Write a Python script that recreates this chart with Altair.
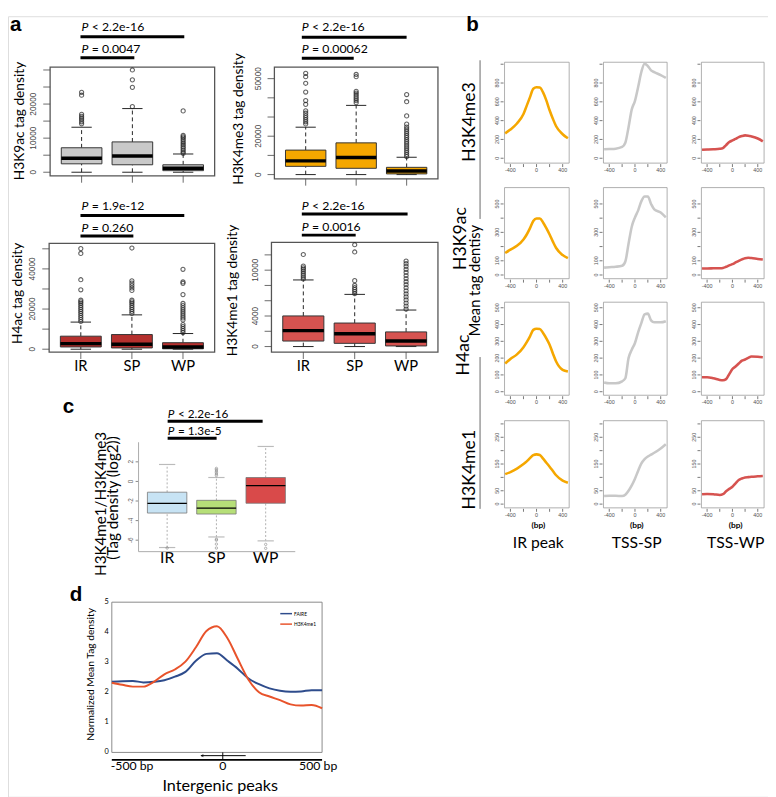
import altair as alt
import pandas as pd

W, H = 776, 797
SANS = "Lato"
RSANS = "Liberation Sans"

GROUPS = ["IR", "SP", "WP"]
POS = [1, 2, 3]

# ---------------- panel a : box-plot summaries ----------------
H3K9AC_LO = [0, 0, 0]
H3K9AC_Q1 = [2470, 2190, 460]
H3K9AC_MED = [4100, 4780, 1150]
H3K9AC_Q3 = [7180, 8900, 2190]
H3K9AC_HI = [13200, 18680, 5350]
H3K9AC_OUT_IR = [14200, 14800, 15400, 15900, 16400, 17000, 22600, 23450]
H3K9AC_OUT_SP = [19250, 24900, 27100, 30000]
H3K9AC_OUT_WP = [5550, 6000, 6500, 7000, 7500, 8000, 8500, 9000, 9500, 10000, 10400, 10800, 18000]

H3K4ME3_LO = [0, 0, 0]
H3K4ME3_Q1 = [4290, 3270, 360]
H3K4ME3_MED = [7140, 8880, 1890]
H3K4ME3_Q3 = [12760, 16530, 3780]
H3K4ME3_HI = [24700, 36070, 9030]
H3K4ME3_OUT_IR = [26400, 27500, 28600, 29700, 30800, 32000, 33200, 36600, 38600, 43000, 47600, 51000, 52800]
H3K4ME3_OUT_SP = [37450, 38500, 39500, 40500, 41500, 42500, 43400, 51000, 52200]
H3K4ME3_OUT_WP = [9400, 10500, 11600, 12700, 13800, 14900, 16000, 17100, 18200, 19300, 20400,
                  21500, 22600, 23700, 24800, 26300, 30600, 38000, 41700]

H4AC_LO = [0, 0, 0]
H4AC_Q1 = [1120, 630, 200]
H4AC_MED = [2780, 2440, 1120]
H4AC_Q3 = [6490, 7300, 3250]
H4AC_HI = [13500, 17100, 7800]
H4AC_OUT_IR = [13800, 14800, 15800, 16800, 17800, 18800, 19800, 20800, 21800, 22800, 23600, 24400,
               29600, 34600, 47700, 50100]
H4AC_OUT_SP = [17800, 18800, 19800, 20800, 21800, 22800, 23600, 24400, 29300, 30500, 31700, 32900, 34100, 50400]
H4AC_OUT_WP = [8300, 9300, 10300, 11300, 12300, 14600, 15600, 16600, 17600, 18600, 19600, 20600, 21700,
               22800, 27200, 32800, 33500, 39800]

H3K4ME1_LO = [0, 0, 0]
H3K4ME1_Q1 = [720, 420, 80]
H3K4ME1_MED = [2090, 1670, 720]
H3K4ME1_Q3 = [4010, 3080, 1920]
H3K4ME1_HI = [8720, 6830, 4780]
H3K4ME1_OUT_IR = [8850, 9100, 9350, 9600, 9850, 10100, 10300, 10540, 12050]
H3K4ME1_OUT_SP = [6920, 7200, 7450, 7700, 8000, 8630, 12380, 13330]
H3K4ME1_OUT_WP = [4900, 5300, 5700, 6100, 6500, 6900, 7300, 7700, 8100, 8500, 8900, 9300, 9700,
                  10100, 10500, 10850, 11200]

# ---------------- panel b : mean tag density profiles ----------------
B_BP = [-480, -400, -300, -200, -150, -100, -50, 0, 50, 100, 150, 200, 250, 300, 400, 480]
B_H3K4ME3_IR = [265, 305, 370, 470, 560, 650, 740, 755, 752, 700, 615, 510, 420, 340, 255, 212]
B_H3K4ME3_SP = [95, 98, 102, 120, 165, 330, 520, 610, 760, 920, 1005, 980, 935, 915, 885, 855]
B_H3K4ME3_WP = [90, 92, 95, 100, 108, 140, 172, 190, 205, 224, 236, 243, 240, 232, 210, 180]
B_H3K9AC_IR = [155, 178, 205, 250, 285, 330, 380, 398, 398, 370, 330, 285, 235, 190, 140, 118]
B_H3K9AC_SP = [52, 55, 58, 65, 95, 220, 340, 405, 455, 520, 552, 552, 500, 462, 440, 405]
B_H3K9AC_WP = [45, 46, 47, 48, 50, 58, 68, 76, 88, 100, 110, 118, 121, 119, 113, 109]
B_H4AC_IR = [168, 195, 222, 265, 295, 330, 368, 375, 374, 350, 318, 280, 228, 180, 130, 120]
B_H4AC_SP = [55, 50, 50, 62, 80, 200, 250, 290, 355, 410, 460, 465, 425, 413, 413, 420]
B_H4AC_WP = [86, 86, 80, 70, 68, 75, 105, 135, 150, 168, 185, 192, 202, 210, 208, 205]
B_H3K4ME1_IR = [112, 120, 133, 150, 160, 172, 183, 186, 184, 170, 155, 140, 124, 108, 88, 80]
B_H3K4ME1_SP = [30, 31, 31, 30, 35, 50, 70, 95, 125, 152, 168, 178, 185, 192, 208, 224]
B_H3K4ME1_WP = [37, 38, 37, 34, 37, 48, 57, 65, 78, 90, 96, 100, 101, 102, 104, 105]

# ---------------- panel c : log2 ratio box plots ----------------
C_LO = [-6.75, -5.67, -6.07]
C_Q1 = [-3.23, -3.33, -2.23]
C_MED = [-2.23, -2.73, -0.43]
C_Q3 = [-1.1, -1.93, 0.4]
C_HI = [1.73, 0.4, 3.57]
C_OUT_IR = [-6.8]
C_OUT_SP = [0.6, 0.75, 0.9, 1.05, 1.2, 1.33, -5.9, -6.0, -6.4, -6.8]
C_OUT_WP = [-6.43, -6.83]

# ---------------- panel d : normalized profiles ----------------
D_BP = [-500, -450, -400, -350, -300, -250, -200, -150, -100, -50, 0, 50, 100, 150, 200, 250, 300, 350, 400, 450, 500]
D_FAIRE = [2.35, 2.37, 2.38, 2.33, 2.35, 2.40, 2.52, 2.68, 3.05, 3.28, 3.30, 3.05, 2.78, 2.46, 2.27, 2.13,
           2.05, 2.02, 2.03, 2.07, 2.07]
D_H3K4ME1 = [2.32, 2.25, 2.19, 2.19, 2.35, 2.60, 2.76, 3.02, 3.50, 4.04, 4.20, 3.80, 3.10, 2.42, 2.00, 1.86,
             1.74, 1.60, 1.56, 1.58, 1.47]

# ---------------- tick values ----------------
A1_TICKS = [0, 5000, 10000, 15000, 20000, 25000, 30000]
A1_LABELS = [0, 10000, 20000]
A2_TICKS = [0, 10000, 20000, 30000, 40000, 50000]
A2_LABELS = [0, 20000, 50000]
A3_TICKS = [0, 10000, 20000, 30000, 40000, 50000]
A3_LABELS = [0, 20000, 40000]
A4_TICKS = [0, 2000, 4000, 6000, 8000, 10000, 12000]
A4_LABELS = [0, 4000, 10000]
B_XTICKS = [-400, -200, 0, 200, 400]
B_XLABELS = [-400, 0, 400]
C_TICKS = [-6, -4, -2, 0, 2]
D_TICKS = [0, 1, 2, 3, 4, 5]

# ---------------- colours ----------------
C_GRAY = "#c9c9c9"
C_ORANGE = "#f5a700"
C_DKRED = "#b5302e"
C_RED = "#d65350"
C_LBLUE = "#c7e3f4"
C_GREEN = "#b6df78"
C_WPRED = "#d94a4a"
C_FAIRE = "#2e4c8c"
C_K4ME1 = "#e8532b"


def scale(dom, a, b):
    return alt.Scale(domain=dom, range=[a, b], nice=False, zero=False)


def ytick_layers(ysc, L, vals, keep, size, font, color, tick, pad, angle=270):
    df = pd.DataFrame({"v": vals, "lab": [str(v) if v in keep else "" for v in vals]})
    out = []
    if tick > 0:
        out.append(alt.Chart(df).mark_rule(color=color, strokeWidth=0.8).encode(
            y=alt.Y("v:Q", scale=ysc, axis=None), x=alt.value(L - tick), x2=alt.value(L)))
    if angle == 270:
        mk = alt.Chart(df).mark_text(font=font, fontSize=size, color=color, angle=270,
                                     align="center", baseline="bottom")
    else:
        mk = alt.Chart(df).mark_text(font=font, fontSize=size, color=color, align="right",
                                     baseline="middle")
    out.append(mk.encode(y=alt.Y("v:Q", scale=ysc, axis=None), x=alt.value(L - tick - pad), text="lab:N"))
    return out


def xtick_layers(xsc, B, vals, labels, size, font, color, tick, pad):
    df = pd.DataFrame({"v": vals, "lab": labels})
    out = []
    if tick > 0:
        out.append(alt.Chart(df).mark_rule(color=color, strokeWidth=0.8).encode(
            x=alt.X("v:Q", scale=xsc, axis=None), y=alt.value(B), y2=alt.value(B + tick)))
    out.append(alt.Chart(df).mark_text(font=font, fontSize=size, color=color, align="center",
                                       baseline="top").encode(
        x=alt.X("v:Q", scale=xsc, axis=None), y=alt.value(B + tick + pad), text="lab:N"))
    return out


def frame_layer(xdom, ydom, xsc, ysc, stroke, sw):
    df = pd.DataFrame({"x0": [xdom[0]], "x1": [xdom[1]], "y0": [ydom[0]], "y1": [ydom[1]]})
    return alt.Chart(df).mark_rect(fillOpacity=0, stroke=stroke, strokeWidth=sw).encode(
        x=alt.X("x0:Q", scale=xsc, axis=None), x2="x1:Q",
        y=alt.Y("y0:Q", scale=ysc, axis=None), y2="y1:Q")


def box_panel(lo, q1, med, q3, hi, oir, osp, owp, fill, L, R, T, B, xdom, ydom, yvals, ykeep,
              xlabels, st):
    xsc = scale(xdom, L, R)
    ysc = scale(ydom, B, T)
    df = pd.DataFrame({"pos": POS, "lo": lo, "q1": q1, "med": med, "q3": q3, "hi": hi})
    df["left"] = df["pos"] - st["half"]
    df["right"] = df["pos"] + st["half"]
    df["capl"] = df["pos"] - st["cap"]
    df["capr"] = df["pos"] + st["cap"]
    df["fill"] = fill if isinstance(fill, list) else [fill] * 3
    odf = pd.DataFrame([(1, v) for v in oir] + [(2, v) for v in osp] + [(3, v) for v in owp],
                       columns=["pos", "v"])
    X = lambda f: alt.X(f, scale=xsc, axis=None)
    Y = lambda f: alt.Y(f, scale=ysc, axis=None)
    base = alt.Chart(df)
    parts = []
    if st["frame"]:
        parts.append(frame_layer(xdom, ydom, xsc, ysc, st["fcol"], st["fw"]))
    parts += ytick_layers(ysc, L, yvals, ykeep, st["ysize"], RSANS, st["tcol"], st["ytick"], st["ypad"])
    parts += xtick_layers(xsc, B, POS, GROUPS if xlabels else ["", "", ""], st["xsize"], SANS,
                          "black", 0, st["xtick"] + st["xpad"])
    if st["xtick"] > 0:
        parts.append(alt.Chart(df).mark_rule(color="#444", strokeWidth=0.8).encode(
            x=X("pos:Q"), y=alt.value(B), y2=alt.value(B + st["xtick"])))
    parts += [
        base.mark_rule(color=st["wc"], strokeWidth=st["ww"], strokeDash=st["dash"]).encode(
            x=X("pos:Q"), y=Y("lo:Q"), y2="q1:Q"),
        base.mark_rule(color=st["wc"], strokeWidth=st["ww"], strokeDash=st["dash"]).encode(
            x=X("pos:Q"), y=Y("q3:Q"), y2="hi:Q"),
        base.mark_rule(color=st["cc"], strokeWidth=st["cw"]).encode(x=X("capl:Q"), x2="capr:Q", y=Y("lo:Q")),
        base.mark_rule(color=st["cc"], strokeWidth=st["cw"]).encode(x=X("capl:Q"), x2="capr:Q", y=Y("hi:Q")),
        base.mark_rect(stroke=st["bs"], strokeWidth=st["bw"]).encode(
            x=X("left:Q"), x2="right:Q", y=Y("q1:Q"), y2="q3:Q", fill=alt.Fill("fill:N", scale=None)),
        base.mark_rule(color="black", strokeWidth=st["mw"]).encode(x=X("left:Q"), x2="right:Q", y=Y("med:Q")),
        alt.Chart(odf).mark_point(shape="circle", filled=False, size=st["os"], color=st["oc"],
                                  strokeWidth=st["ow"]).encode(x=X("pos:Q"), y=Y("v:Q")),
    ]
    return alt.layer(*parts)


def line_panel(xs_, ys_, color, L, R, T, B, ydom, yvals, ykeep, sw=2.6):
    xdom = [-490, 500]
    xsc = scale(xdom, L, R)
    ysc = scale(ydom, B, T)
    parts = [frame_layer(xdom, ydom, xsc, ysc, "#9a9a9a", 0.8)]
    parts += ytick_layers(ysc, L - 1, yvals, ykeep, 5.5, RSANS, "#555", 3, 1)
    parts += xtick_layers(xsc, B + 1, B_XTICKS, [str(v) if v in B_XLABELS else "" for v in B_XTICKS],
                          5.5, RSANS, "#555", 3, 1)
    parts.append(alt.Chart(pd.DataFrame({"bp": xs_, "v": ys_})).mark_line(
        color=color, strokeWidth=sw, interpolate="monotone").encode(
        x=alt.X("bp:Q", scale=xsc, axis=None), y=alt.Y("v:Q", scale=ysc, axis=None)))
    return alt.layer(*parts)


def txt(s, x, y, size, font=SANS, weight="normal", style="normal", angle=0, align="left",
        baseline="alphabetic", color="black"):
    return alt.Chart(pd.DataFrame({"t": [s]})).mark_text(
        font=font, fontSize=size, fontWeight=weight, fontStyle=style, angle=angle, align=align,
        baseline=baseline, color=color).encode(x=alt.value(x), y=alt.value(y), text="t:N")


def hseg(x1, x2, y, w, color="black"):
    return alt.Chart(pd.DataFrame({"a": [0]})).mark_rule(strokeWidth=w, color=color).encode(
        x=alt.value(x1), x2=alt.value(x2), y=alt.value(y))


def vseg(x, y1, y2, w, color="black"):
    return alt.Chart(pd.DataFrame({"a": [0]})).mark_rule(strokeWidth=w, color=color).encode(
        x=alt.value(x), y=alt.value(y1), y2=alt.value(y2))


def pval(x, y, rest, size=12.5, gap=10.5):
    return [txt("P", x, y, size, style="italic"), txt(rest, x + gap, y, size)]


layers = []

# ---------------- panel a ----------------
STA = dict(frame=True, half=0.4, cap=0.2, wc="#222", ww=1, dash=[4, 3], cc="#222", cw=1, bs="#333", bw=1,
           mw=3.5, os=18, oc="#222", ow=1.1, ysize=8.5, tcol="#444", ytick=7, ypad=5, xsize=15, xtick=7,
           xpad=0, fcol="#555", fw=1.3)
AX = [0.38, 3.62]
layers.append(box_panel(H3K9AC_LO, H3K9AC_Q1, H3K9AC_MED, H3K9AC_Q3, H3K9AC_HI,
                        H3K9AC_OUT_IR, H3K9AC_OUT_SP, H3K9AC_OUT_WP, C_GRAY,
                        43, 211, 52, 163, AX, [-1063, 30833], A1_TICKS, A1_LABELS, False, STA))
layers.append(box_panel(H3K4ME3_LO, H3K4ME3_Q1, H3K4ME3_MED, H3K4ME3_Q3, H3K4ME3_HI,
                        H3K4ME3_OUT_IR, H3K4ME3_OUT_SP, H3K4ME3_OUT_WP, C_ORANGE,
                        272, 439, 52, 166, AX, [-2194, 56000], A2_TICKS, A2_LABELS, False, STA))
layers.append(box_panel(H4AC_LO, H4AC_Q1, H4AC_MED, H4AC_Q3, H4AC_HI,
                        H4AC_OUT_IR, H4AC_OUT_SP, H4AC_OUT_WP, C_DKRED,
                        42, 211, 232, 343, AX, [-1463, 52683], A3_TICKS, A3_LABELS, True, STA))
layers.append(box_panel(H3K4ME1_LO, H3K4ME1_Q1, H3K4ME1_MED, H3K4ME1_Q3, H3K4ME1_HI,
                        H3K4ME1_OUT_IR, H3K4ME1_OUT_SP, H3K4ME1_OUT_WP, C_RED,
                        269, 439, 231, 343, AX, [-731, 13628], A4_TICKS, A4_LABELS, True, STA))

layers += [txt("a", 2, 15, 21, font=RSANS, weight="bold"),
           txt("H3K9ac tag density", 12, 107, 14, angle=270, align="center", baseline="middle"),
           txt("H3K4me3 tag  density", 236, 105, 14, angle=270, align="center", baseline="middle"),
           txt("H4ac tag density", 10, 283, 14, angle=270, align="center", baseline="middle"),
           txt("H3K4me1 tag density", 230, 280, 14, angle=270, align="center", baseline="middle")]
layers += pval(75, 15, "< 2.2e-16") + pval(75, 38, "= 0.0047")
layers += [hseg(74, 180, 21, 3), hseg(74, 129, 42.5, 3)]
layers += pval(300, 15, "< 2.2e-16") + pval(300, 38, "= 0.00062")
layers += [hseg(300, 407, 21.5, 3), hseg(300, 353, 43, 3)]
layers += pval(75, 198, "= 1.9e-12") + pval(75, 220, "= 0.260")
layers += [hseg(74, 180, 203.5, 3), hseg(74, 128, 224.5, 3)]
layers += pval(300, 198, "< 2.2e-16") + pval(300, 219.5, "= 0.0016")
layers += [hseg(300, 408, 202, 3), hseg(300, 355, 223.5, 3)]

# ---------------- panel b ----------------
COLS = [(507, 573), (608, 673), (708, 772)]
ROWS = [
    (47, 150, [-52, 1021], [0, 200, 400, 600, 800, 1000], [0, 200, 400, 600, 800],
     [B_H3K4ME3_IR, B_H3K4ME3_SP, B_H3K4ME3_WP]),
    (175, 268, [-26, 615], [0, 100, 200, 300, 400, 500], [0, 100, 300, 500],
     [B_H3K9AC_IR, B_H3K9AC_SP, B_H3K9AC_WP]),
    (292, 387, [-21, 533], [0, 100, 200, 300, 400, 500], [0, 100, 200, 300, 400, 500],
     [B_H4AC_IR, B_H4AC_SP, B_H4AC_WP]),
    (413, 502, [-14, 312], [0, 50, 100, 150, 200, 250, 300], [0, 50, 150, 250],
     [B_H3K4ME1_IR, B_H3K4ME1_SP, B_H3K4ME1_WP]),
]
LINE_COLS = [C_ORANGE, "#c8c8c8", C_RED]
for (T, B, ydom, yvals, ykeep, series) in ROWS:
    for (L, R), s, col in zip(COLS, series, LINE_COLS):
        layers.append(line_panel(B_BP, s, col, L, R, T, B, ydom, yvals, ykeep))

layers += [txt("b", 468, 15, 21, font=RSANS, weight="bold"),
           txt("H3K4me3", 472, 108, 18, angle=270, align="center", baseline="middle"),
           txt("H3K9ac", 463, 227, 18, angle=270, align="center", baseline="middle"),
           txt("Mean tag dentisy", 477, 270, 15, angle=270, align="center", baseline="middle"),
           txt("H4ac", 466, 346, 18, angle=270, align="center", baseline="middle"),
           txt("H3K4me1", 472, 463, 18, angle=270, align="center", baseline="middle"),
           vseg(482, 45, 207, 1, "#666"), vseg(482, 348, 503, 1, "#666")]
for cx, lab in zip([541.5, 642, 743], ["IR peak", "TSS-SP", "TSS-WP"]):
    layers.append(txt("(bp)", cx, 520, 8.5, weight="bold", align="center", baseline="middle"))
    layers.append(txt(lab, cx, 543, 16, align="center"))

# ---------------- panel c ----------------
STC = dict(frame=False, half=0.4, cap=0.165, wc="#9a9a9a", ww=0.8, dash=[2, 2], cc="#bbbbbb", cw=1.2,
           bs="#777", bw=0.8, mw=1.3, os=6, oc="#777", ow=0.8, ysize=6.5, tcol="#666", ytick=3, ypad=2,
           xsize=16, xtick=0, xpad=-1)
layers.append(box_panel(C_LO, C_Q1, C_MED, C_Q3, C_HI, C_OUT_IR, C_OUT_SP, C_OUT_WP,
                        [C_LBLUE, C_GREEN, C_WPRED], 133.3, 293.3, 435, 546.7, [0.42, 3.6],
                        [-7.17, 4.0], C_TICKS, C_TICKS, True, STC))
layers += [vseg(133.3, 435, 546.7, 1, "#aaa"), hseg(133.3, 293.3, 546.7, 1, "#aaa"),
           txt("c", 56, 405, 21, font=RSANS, weight="bold"),
           txt("H3K4me1/H3K4me3", 95, 498, 15.5, angle=270, align="center", baseline="middle"),
           txt("(Tag density (log2))", 107, 492, 15.5, angle=270, align="center", baseline="middle")]
layers += pval(163, 410.5, "< 2.2e-16", 12) + pval(163, 428, "= 1.3e-5", 12)
layers += [hseg(163, 260, 413.5, 3), hseg(163, 213, 431, 3)]

# ---------------- panel d ----------------
dxs = scale([-500, 500], 106, 320.7)
dys = scale([0, 5], 751.7, 598.3)
ddf = pd.DataFrame({"bp": D_BP * 2, "v": D_FAIRE + D_H3K4ME1,
                    "s": ["FAIRE"] * len(D_BP) + ["H3K4me1"] * len(D_BP)})
dparts = [frame_layer([-500, 500], [0, 5], dxs, dys, "#888", 1)]
dparts += ytick_layers(dys, 106, D_TICKS, D_TICKS, 7.5, SANS, "black", 0, 3, angle=0)
dparts.append(alt.Chart(ddf).mark_line(strokeWidth=2, interpolate="monotone").encode(
    x=alt.X("bp:Q", scale=dxs, axis=None), y=alt.Y("v:Q", scale=dys, axis=None),
    color=alt.Color("s:N", scale=alt.Scale(domain=["FAIRE", "H3K4me1"], range=[C_FAIRE, C_K4ME1]),
                    legend=None)))
layers.append(alt.layer(*dparts))
layers += [txt("d", 63, 597, 21, font=RSANS, weight="bold"),
           txt("Normalized Mean Tag density", 85, 672, 10.5, angle=270, align="center", baseline="middle"),
           hseg(278, 290, 610, 1.5, C_FAIRE), hseg(278, 290, 620.7, 1.5, C_K4ME1),
           txt("FAIRE", 292, 610, 5, baseline="middle"), txt("H3K4me1", 292, 620.7, 5, baseline="middle"),
           hseg(106, 320.7, 759.3, 1.6, "black"),
           hseg(197, 242.7, 755, 1, "black"), vseg(219.3, 751.7, 759.3, 1, "black"),
           alt.Chart(pd.DataFrame({"a": [0]})).mark_point(shape="triangle-left", filled=True, size=12,
                                                           color="black").encode(
               x=alt.value(198), y=alt.value(755)),
           txt("-500 bp", 126.7, 770, 12.5, align="center"),
           txt("0", 219.3, 770, 12.5, align="center"),
           txt("500 bp", 316.7, 770, 12.5, align="center"),
           txt("Intergenic peaks", 216.7, 791, 16.5, align="center")]

chart = alt.layer(*layers).resolve_scale(x="independent", y="independent").properties(
    width=W, height=H, autosize=alt.AutoSizeParams(type="none"), padding=0
).configure_view(strokeWidth=0).configure(background="white")

chart.save("out.html", embed_options={"renderer": "svg", "actions": False})
